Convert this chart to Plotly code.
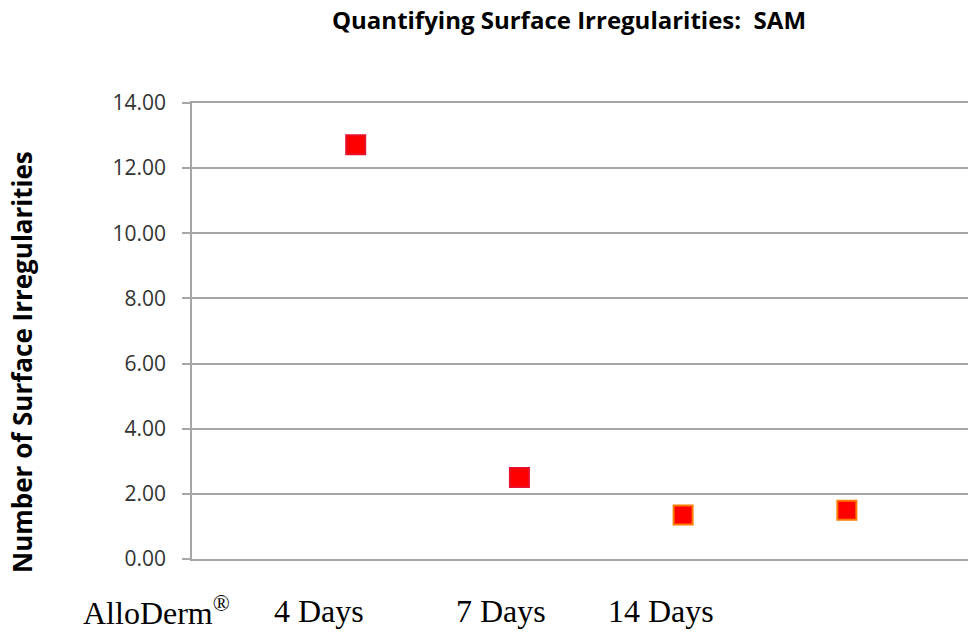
import plotly.graph_objects as go

x_pos = [1, 2, 3, 4]
values = [12.72, 2.50, 1.35, 1.50]
marker_fill = ["#ff0000", "#ff0000", "#ff0000", "#ff0000"]
marker_edge = ["#e8102a", "#e8102a", "#ff7a00", "#ff7a00"]
label_texts = ["AlloDerm<sup>®</sup>", "4 Days", "7 Days", "14 Days"]
label_xpaper = [-0.046, 0.164, 0.398, 0.604]
y_ticks = [0, 2, 4, 6, 8, 10, 12, 14]

fig = go.Figure()
fig.add_trace(go.Scatter(
    x=x_pos, y=values, mode="markers",
    marker=dict(symbol="square", size=19, color=marker_fill,
                line=dict(color=marker_edge, width=2)),
    showlegend=False, cliponaxis=False,
))

for t, xv in zip(label_texts, label_xpaper):
    fig.add_annotation(x=xv, y=0, xref="paper", yref="paper", yshift=-52,
                       xanchor="center", yanchor="middle",
                       text=t, showarrow=False,
                       font=dict(family="Liberation Serif", size=32, color="black"))

fig.add_annotation(x=(22 - 192) / 776, y=(559 - 362) / 456, xref="paper", yref="paper",
                   text="<b>Number of Surface Irregularities</b>", textangle=-90,
                   showarrow=False, xanchor="center", yanchor="middle",
                   font=dict(family="Open Sans", size=26, color="black"))

fig.update_layout(
    width=968, height=632,
    margin=dict(l=192, r=0, t=103, b=73),
    plot_bgcolor="white", paper_bgcolor="white",
    title=dict(text="<b>Quantifying Surface Irregularities:  SAM</b>",
               x=569 / 968, xanchor="center", y=1 - 21 / 632, yanchor="middle",
               font=dict(family="Open Sans", size=24, color="black")),
)
fig.update_xaxes(range=[0, 4.74], showticklabels=False, showgrid=False,
                 zeroline=False, showline=True, mirror=True,
                 linecolor="#a6a6a6", linewidth=1.5, ticks="")
fig.update_yaxes(range=[0, 14], tickvals=y_ticks, tickformat=".2f",
                 showgrid=True, gridcolor="#a6a6a6", gridwidth=1.5,
                 zeroline=False, showline=True, linecolor="#a6a6a6", linewidth=1.5,
                 ticks="outside", ticklen=8, tickcolor="#a6a6a6", tickwidth=1.5,
                 ticklabelstandoff=12,
                 tickfont=dict(family="Open Sans", size=21, color="#333333"))

fig.write_html("out.html")
